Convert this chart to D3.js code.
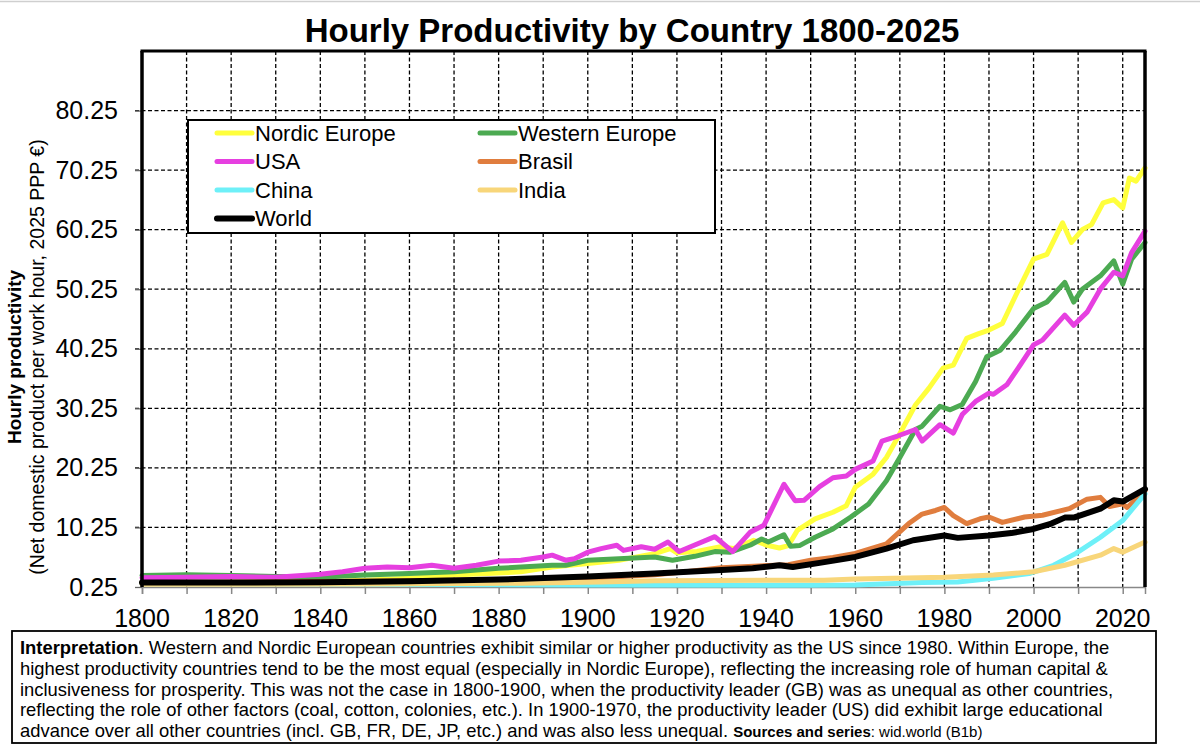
<!DOCTYPE html>
<html>
<head>
<meta charset="utf-8">
<script src="https://cdn.jsdelivr.net/npm/d3@7"></script>
<style>
  body { margin: 0; background: #fff; }
  svg { display: block; font-family: "Liberation Sans", Arial, sans-serif; }
</style>
</head>
<body>
<svg id="chart" width="1200" height="745"></svg>
<script>
// values, [year, productivity]
const nordic = [[1800,1.0],[1820,1.0],[1840,1.1],[1850,1.4],[1860,1.7],[1870,2.25],[1880,2.6],[1885,2.8],[1892,3.6],[1900,4.2],[1907,4.75],[1915,5.85],[1918.5,6.7],[1920,6.0],[1924.5,6.2],[1929.8,7.0],[1932.7,6.7],[1937.2,8.1],[1940.2,7.25],[1943,6.8],[1945,7.2],[1947,9.75],[1951,11.7],[1955,12.8],[1958,13.9],[1960,17.0],[1964,19.2],[1967,22.0],[1969.5,25.3],[1973.5,30.8],[1976.5,33.6],[1979.7,37.0],[1982,37.5],[1985,42.0],[1987.7,42.8],[1990,43.4],[1993,44.5],[1996,49.2],[2000,55.3],[2003,56.1],[2006.5,61.4],[2008.5,58.1],[2011,60.3],[2013,61.1],[2015.6,64.75],[2018,65.3],[2020,63.9],[2021.5,68.9],[2023,68.4],[2025,70.6]]
const western = [[1800,2.2],[1810,2.3],[1820,2.2],[1830,2.0],[1840,1.9],[1850,2.25],[1860,2.5],[1870,2.8],[1880,3.4],[1885,3.6],[1892,3.9],[1895,3.9],[1900,4.75],[1907,5.0],[1915,5.3],[1919,4.75],[1924,5.4],[1928.5,6.2],[1932,6.1],[1936.5,7.3],[1939,8.3],[1940.5,7.8],[1944,9.0],[1945.5,7.1],[1947.5,7.2],[1951,8.6],[1955,10.0],[1959,12.0],[1963,14.2],[1967,18.1],[1970,22.0],[1973.5,26.7],[1975,27.25],[1979,30.6],[1981.3,30.0],[1984,30.9],[1987,34.75],[1989.5,38.9],[1992.5,40.0],[1996,43.1],[2000,47.0],[2003,48.1],[2007,51.4],[2009,48.1],[2011,50.3],[2015,52.5],[2018,55.0],[2020,51.1],[2022,55.3],[2025,58.1]]
const usa = [[1800,1.8],[1810,1.9],[1820,2.0],[1830,1.9],[1840,2.4],[1845,2.8],[1850,3.4],[1855,3.6],[1860,3.5],[1865,3.9],[1870,3.4],[1875,3.9],[1880,4.6],[1885,4.75],[1890,5.3],[1892,5.6],[1895,4.75],[1897,5.0],[1900,6.1],[1903,6.7],[1906.5,7.25],[1908,6.4],[1912,7.0],[1915,6.6],[1918,7.8],[1920.5,6.2],[1924,7.3],[1928.5,8.7],[1932.5,6.2],[1936.5,9.5],[1939.5,10.6],[1944,17.5],[1946.5,14.75],[1948.5,14.8],[1952,17.1],[1955,18.6],[1958,18.9],[1960,20.0],[1964,21.4],[1966,24.75],[1969.5,25.6],[1973.5,26.7],[1975,24.75],[1979,27.5],[1982,26.1],[1984,29.2],[1987,31.4],[1990,32.8],[1991,32.6],[1994,34.2],[1997,37.5],[2000,40.9],[2002,41.7],[2007,45.9],[2009,44.2],[2012,46.4],[2015,50.3],[2018,53.1],[2020,52.5],[2022,56.4],[2025,60.0]]
const brasil = [[1800,1.0],[1850,1.2],[1900,1.7],[1915,2.3],[1922,2.8],[1930,3.5],[1945,4.0],[1950,4.75],[1955,5.2],[1960,5.9],[1967,7.5],[1972,10.9],[1975,12.5],[1978,13.1],[1980,13.6],[1982,12.25],[1985,10.9],[1988,11.7],[1990,12.0],[1993,11.1],[1998,12.0],[2002,12.3],[2008,13.4],[2012,15.0],[2015,15.3],[2017,13.75],[2020,14.2],[2021,13.6],[2025,16.4]]
const china = [[1800,0.8],[1850,0.7],[1900,0.6],[1950,0.55],[1960,0.6],[1975,1.0],[1983,1.1],[1991,1.7],[1999,2.5],[2004.5,3.9],[2009.5,5.9],[2015,8.6],[2020,11.4],[2025,15.9]]
const india = [[1800,0.7],[1850,0.75],[1885,0.9],[1903,1.1],[1915,1.3],[1940,1.4],[1953,1.4],[1960,1.6],[1980,1.9],[1991,2.25],[2000,2.8],[2007,3.9],[2015,5.6],[2018,6.7],[2020,6.1],[2025,7.8]]
const world = [[1800,1.0],[1820,1.0],[1840,1.05],[1860,1.2],[1880,1.5],[1900,2.0],[1915,2.5],[1930,3.1],[1937,3.4],[1943,3.9],[1946,3.6],[1952,4.3],[1960,5.3],[1967,6.7],[1973,8.1],[1980,8.9],[1983,8.5],[1990,8.9],[1995,9.3],[2000,10.0],[2004,10.9],[2007,11.9],[2009,11.9],[2015,13.4],[2018,14.8],[2020,14.6],[2025,16.7]]

const seriesNames = ['Nordic Europe', 'Western Europe', 'USA', 'Brasil', 'China', 'India', 'World']
const seriesData = [nordic, western, usa, brasil, china, india, world]
const seriesColors = ['#ffff3c', '#4caa52', '#e63fe0', '#e07d3e', '#6ef0f8', '#f8d67a', '#000000']
const yTicks = [0.25, 10.25, 20.25, 30.25, 40.25, 50.25, 60.25, 70.25, 80.25]
const xLabels = [1800, 1820, 1840, 1860, 1880, 1900, 1920, 1940, 1960, 1980, 2000, 2020]
const xGrid = d3.range(1810, 2021, 10)

const notes = [
  [['Interpretation', true], ['. Western and Nordic European countries exhibit similar or higher productivity as the US since 1980. Within Europe, the', false]],
  [['highest productivity countries tend to be the most equal (especially in Nordic Europe), reflecting the increasing role of human capital &', false]],
  [['inclusiveness for prosperity. This was not the case in 1800-1900, when the productivity leader (GB) was as unequal as other countries,', false]],
  [['reflecting the role of other factors (coal, cotton, colonies, etc.). In 1900-1970, the productivity leader (US) did exhibit large educational', false]],
  [['advance over all other countries (incl. GB, FR, DE, JP, etc.) and was also less unequal.  ', false], ['Sources and series', true, 15], [': wid.world (B1b)', false, 15]]
]

const svg = d3.select('#chart')
const pLeft = 142, pRight = 1145, pTop = 51, pBottom = 587

const x = d3.scaleLinear().domain([1800, 2025]).range([pLeft, pRight])
const y = d3.scaleLinear().domain([0.25, 90.25]).range([pBottom, pTop])

svg.append('line').attr('x1', 0).attr('x2', 1200).attr('y1', 1.5).attr('y2', 1.5)
  .attr('stroke', '#cfcfcf').attr('stroke-width', 1.5)

// title
svg.append('text').attr('x', 632).attr('y', 42).attr('text-anchor', 'middle')
  .attr('font-size', 33).attr('font-weight', 'bold').text('Hourly Productivity by Country 1800-2025')

// grid
const grid = svg.append('g')
grid.selectAll('.hg').data(yTicks.slice(1)).join('line')
  .attr('x1', pLeft - 7).attr('x2', pRight).attr('y1', d => y(d)).attr('y2', d => y(d))
  .attr('stroke', '#000').attr('stroke-width', 1.3).attr('stroke-dasharray', '4,2.5')
grid.selectAll('.vg').data(xGrid).join('line')
  .attr('x1', d => x(d)).attr('x2', d => x(d)).attr('y1', pTop).attr('y2', pBottom)
  .attr('stroke', '#000').attr('stroke-width', 1.3).attr('stroke-dasharray', '4,2.5')

// bottom axis
const xAxis = d3.axisBottom(x).tickValues(d3.range(1800, 2021, 10)).tickSize(7).tickFormat('')
const gx = svg.append('g').attr('transform', `translate(0,${pBottom})`).call(xAxis)
gx.select('.domain').attr('stroke', '#888').attr('stroke-width', 1.5)
gx.selectAll('.tick line').attr('stroke', '#888').attr('stroke-width', 1.5)
svg.append('g').selectAll('text').data(xLabels).join('text')
  .attr('x', d => x(d)).attr('y', 627).attr('text-anchor', 'middle')
  .attr('font-size', 25).text(d => d)

// left axis labels
const yAxis = d3.axisLeft(y).tickValues(yTicks).tickSize(7).tickPadding(17).tickFormat(d3.format('.2f'))
const gy = svg.append('g').attr('transform', `translate(${pLeft},0)`).call(yAxis)
gy.select('.domain').remove()
gy.selectAll('.tick line').attr('stroke', '#666').attr('stroke-width', 1.3)
gy.selectAll('.tick text').attr('font-size', 25).attr('fill', '#000')
  .attr('font-family', '"Liberation Sans", Arial, sans-serif')

// y title
svg.append('text').attr('transform', 'translate(21,357) rotate(-90)').attr('text-anchor', 'middle')
  .attr('font-size', 19).attr('font-weight', 'bold').text('Hourly productivity')
svg.append('text').attr('transform', 'translate(44,357) rotate(-90)').attr('text-anchor', 'middle')
  .attr('font-size', 19.5).text('(Net domestic product per work hour, 2025 PPP €)')

// series
const line = d3.line().x(d => x(d[0])).y(d => y(d[1])).curve(d3.curveLinear)
svg.append('g').selectAll('path').data(seriesData).join('path')
  .attr('d', line).attr('fill', 'none')
  .attr('stroke', (d, i) => seriesColors[i])
  .attr('stroke-width', (d, i) => i === 6 ? 6 : 5)
  .attr('stroke-linejoin', 'round').attr('stroke-linecap', 'round')

// frame
svg.append('line').attr('x1', pLeft).attr('x2', pLeft).attr('y1', pTop).attr('y2', pBottom)
  .attr('stroke', '#000').attr('stroke-width', 3.5)
svg.append('line').attr('x1', pRight).attr('x2', pRight).attr('y1', pTop).attr('y2', pBottom)
  .attr('stroke', '#000').attr('stroke-width', 3.5)
svg.append('line').attr('x1', pLeft - 1.5).attr('x2', pRight + 1.5).attr('y1', pTop).attr('y2', pTop)
  .attr('stroke', '#000').attr('stroke-width', 3)

// legend
const lg = svg.append('g')
lg.append('rect').attr('x', 188).attr('y', 120).attr('width', 527).attr('height', 113)
  .attr('fill', '#fff').attr('stroke', '#000').attr('stroke-width', 2)
const item = lg.selectAll('.item').data(seriesNames).join('g')
  .attr('transform', (d, i) => `translate(${i % 2 === 0 ? 217 : 480},${133 + Math.floor(i / 2) * 28.5})`)
item.append('line').attr('x1', 0).attr('x2', 35).attr('y1', 0).attr('y2', 0)
  .attr('stroke', (d, i) => seriesColors[i]).attr('stroke-width', (d, i) => i === 6 ? 6 : 5)
  .attr('stroke-linecap', 'round')
item.append('text').attr('x', 38).attr('y', 0).attr('dy', '0.35em')
  .attr('font-size', 22).text(d => d)

// interpretation box
svg.append('rect').attr('x', 12).attr('y', 631).attr('width', 1144).attr('height', 112)
  .attr('fill', '#fff').attr('stroke', '#000').attr('stroke-width', 1.8)
const nt = svg.append('g').selectAll('text').data(notes).join('text')
  .attr('x', 20).attr('y', (d, i) => 654 + i * 20.8).attr('font-size', 18.4)
nt.selectAll('tspan').data(d => d).join('tspan')
  .attr('font-weight', d => d[1] ? 'bold' : 'normal')
  .attr('font-size', d => d[2] || 18.4)
  .text(d => d[0])
</script>
</body>
</html>
